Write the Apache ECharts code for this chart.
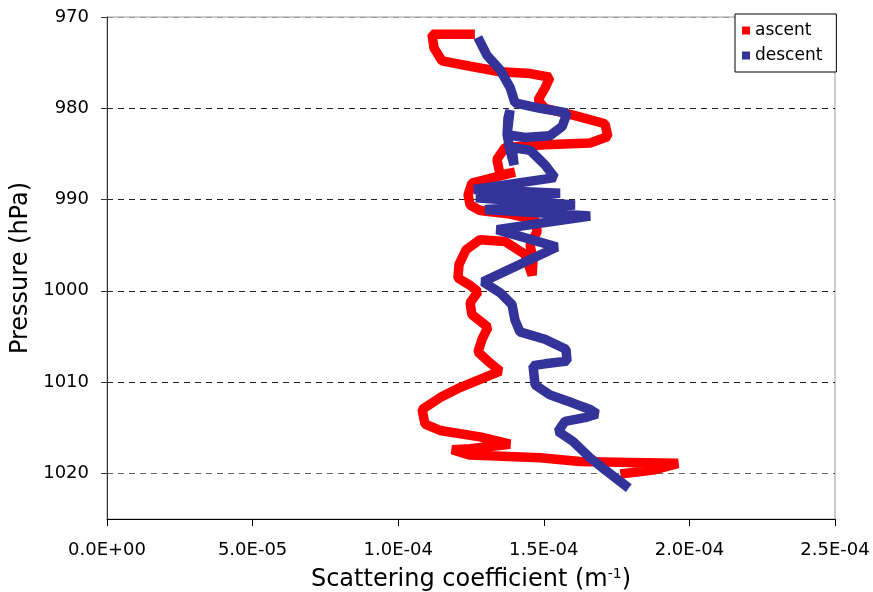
<!DOCTYPE html>
<html>
<head>
<meta charset="utf-8">
<script src="https://cdn.jsdelivr.net/npm/echarts@6/dist/echarts.min.js"></script>
<style>
html,body{margin:0;padding:0;background:#fff;}
#chart{width:873px;height:592px;}
</style>
</head>
<body>
<div id="chart"></div>
<script>
// Ascent (red): scattering coefficient (m^-1) and pressure (hPa)
var ascentScatter = [1.247e-4,1.116e-4,1.123e-4,1.150e-4,1.247e-4,1.350e-4,1.453e-4,1.521e-4,1.504e-4,1.480e-4,
  1.504e-4,1.607e-4,1.710e-4,1.720e-4,1.659e-4,1.504e-4,1.367e-4,1.339e-4,1.350e-4,1.401e-4,
  1.253e-4,1.240e-4,1.247e-4,1.281e-4,1.384e-4,1.470e-4,1.477e-4,1.453e-4,1.463e-4,1.460e-4,
  1.435e-4,1.367e-4,1.281e-4,1.233e-4,1.209e-4,1.205e-4,1.247e-4,1.274e-4,1.247e-4,1.253e-4,
  1.308e-4,1.288e-4,1.274e-4,1.308e-4,1.350e-4,1.281e-4,1.212e-4,1.144e-4,1.082e-4,1.092e-4,
  1.144e-4,1.281e-4,1.384e-4,1.247e-4,1.185e-4,1.247e-4,1.487e-4,1.624e-4,1.796e-4,1.961e-4,
  1.882e-4,1.779e-4];
var ascentPressure = [971.9,971.9,973.4,974.8,975.4,976.0,976.2,976.6,977.8,979.1,
  980.0,980.8,981.7,983.1,983.8,984.0,984.3,985.6,987.3,987.0,
  988.2,989.5,990.6,991.2,991.6,992.2,993.5,995.0,996.6,998.3,
  996.0,994.6,994.4,995.5,997.1,998.6,999.4,1000.1,1001.3,1002.6,
  1004.0,1005.3,1006.7,1007.7,1008.8,1009.7,1010.6,1011.7,1013.0,1014.6,
  1015.3,1016.0,1016.8,1017.3,1017.4,1018.0,1018.3,1018.7,1018.8,1018.9,
  1019.6,1020.0];

// Descent (blue)
var descentScatter = [1.281e-4,1.305e-4,1.350e-4,1.384e-4,1.401e-4,1.487e-4,1.580e-4,1.563e-4,1.521e-4,1.435e-4,
  1.374e-4,1.377e-4,1.384e-4,1.374e-4,1.384e-4,1.398e-4,1.391e-4,1.453e-4,1.504e-4,1.538e-4,
  1.260e-4,1.556e-4,1.267e-4,1.607e-4,1.298e-4,1.659e-4,1.339e-4,1.545e-4,1.291e-4,1.350e-4,
  1.391e-4,1.401e-4,1.418e-4,1.504e-4,1.576e-4,1.580e-4,1.504e-4,1.463e-4,1.470e-4,1.521e-4,
  1.600e-4,1.659e-4,1.683e-4,1.641e-4,1.573e-4,1.549e-4,1.600e-4,1.659e-4,1.710e-4,1.779e-4];
var descentPressure = [972.7,974.2,975.8,977.7,979.4,980.0,980.5,982.0,983.0,983.2,
  982.9,981.1,980.2,982.9,984.6,986.2,984.3,984.6,986.2,987.6,
  988.9,989.3,989.8,990.6,991.1,991.8,993.3,995.2,999.0,1000.2,
  1001.5,1003.2,1004.5,1005.3,1006.4,1007.7,1008.0,1008.2,1010.3,1011.4,
  1012.3,1013.0,1013.5,1013.9,1014.3,1015.4,1016.5,1018.3,1019.6,1021.3];

var seriesNames = ['ascent', 'descent'];
var xTitle = 'Scattering coefficient (m';
var yTitle = 'Pressure (hPa)';

function pairs(xs, ys) {
  var out = [];
  for (var i = 0; i < xs.length; i++) out.push([xs[i], ys[i]]);
  return out;
}
function sci(v) {
  if (Math.abs(v) < 1e-12) return '0.0E+00';
  var s = v.toExponential(1).toUpperCase();
  var m = s.match(/^(-?[\d.]+)E([+-])(\d+)$/);
  var e = m[3].length < 2 ? '0' + m[3] : m[3];
  return m[1] + 'E' + m[2] + e;
}

var FONT = '"DejaVu Sans", Verdana, sans-serif';
var chart = echarts.init(document.getElementById('chart'), null, {renderer: 'canvas'});
chart.setOption({
  animation: false,
  backgroundColor: '#ffffff',
  grid: {left: 107, right: 38, top: 17, bottom: 73, containLabel: false, outerBoundsMode: 'none',
    show: true, borderColor: '#9a9a9a', borderWidth: 1, backgroundColor: '#fff'},
  legend: {
    orient: 'vertical', left: 735, top: 14,
    data: seriesNames,
    icon: 'rect', itemWidth: 8, itemHeight: 8, itemGap: 8,
    borderColor: '#000', borderWidth: 1, padding: [8, 14, 8, 7],
    backgroundColor: '#fff',
    textStyle: {fontFamily: FONT, fontSize: 17, color: '#000'}
  },
  xAxis: {
    type: 'value', min: 0, max: 2.5e-4, interval: 5e-5,
    name: xTitle + '{sup|-1}' + ')',
    nameLocation: 'middle', nameGap: 48,
    nameTextStyle: {fontFamily: FONT, fontSize: 24, color: '#000',
      rich: {sup: {fontFamily: FONT, fontSize: 14, verticalAlign: 'top', padding: [0, 0, 12, 0], color: '#000'}}},
    axisLine: {show: true, lineStyle: {color: '#000', width: 1}},
    axisTick: {show: true, length: 7, lineStyle: {color: '#000'}},
    axisLabel: {fontFamily: FONT, fontSize: 18, color: '#000', margin: 22, formatter: sci},
    splitLine: {show: false}
  },
  yAxis: {
    type: 'value', inverse: true, min: 970, max: 1025, interval: 10,
    name: yTitle, nameLocation: 'middle', nameGap: 70, nameRotate: 90,
    nameTextStyle: {fontFamily: FONT, fontSize: 24, color: '#000'},
    axisLine: {show: true, lineStyle: {color: '#333', width: 1}},
    axisTick: {show: true, length: 6, lineStyle: {color: '#333'}},
    axisLabel: {fontFamily: FONT, fontSize: 18, color: '#000', margin: 18, showMaxLabel: false,
      formatter: function (v) { return String(v); }},
    splitLine: {show: true, lineStyle: {color: ['#9a9a9a', '#222', '#222', '#222', '#222', '#666', 'transparent'], type: [6, 5], width: 1}}
  },
  series: [
    {
      name: seriesNames[0], type: 'line', data: pairs(ascentScatter, ascentPressure),
      showSymbol: false, symbol: 'rect', color: '#ff0000',
      lineStyle: {color: '#ff0000', width: 9.5, join: 'bevel', cap: 'square'},
      itemStyle: {color: '#ff0000'}, z: 2
    },
    {
      name: seriesNames[1], type: 'line', data: pairs(descentScatter, descentPressure),
      showSymbol: false, symbol: 'rect', color: '#333399',
      lineStyle: {color: '#333399', width: 9.5, join: 'bevel', cap: 'square'},
      itemStyle: {color: '#333399'}, z: 3
    }
  ]
});
</script>
</body>
</html>
